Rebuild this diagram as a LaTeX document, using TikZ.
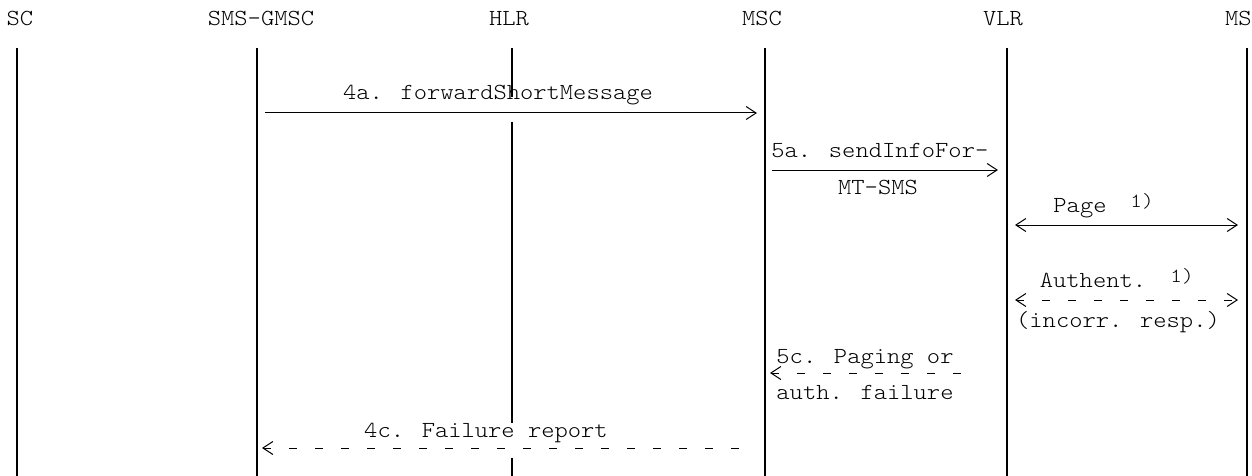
\documentclass[tikz,border=0pt]{standalone}
\usepackage{fontspec}
\newfontfamily\asciifont[FakeStretch=1.1]{lmmonolt10-regular.otf}
\usetikzlibrary{arrows.meta}
\tikzset{
  life/.style={line width=0.7pt},
  msg/.style={line width=0.5pt,-{Straight Barb[length=5pt,width=6.5pt]}},
  backmsg/.style={line width=0.5pt,{Straight Barb[length=5pt,width=6.5pt]}-},
  twoway/.style={line width=0.5pt,{Straight Barb[length=5pt,width=6.5pt]}-{Straight Barb[length=5pt,width=6.5pt]}},
  failmsg/.style={dash pattern=on 4pt off 9pt}
}
\begin{document}
\begin{tikzpicture}[x=0.5pt,y=-0.5pt,every node/.style={font=\asciifont\fontsize{11.5}{13}\selectfont,inner sep=0pt}]
				\useasboundingbox (0,0) rectangle (1252,476);
				% entities and their lines
				\foreach \x/\n/\t in {20/sc/SC,261/gmsc/SMS-GMSC,509/hlr/HLR,762/msc/MSC,1003/vlr/VLR}
				\node[anchor=base] (\n) at (\x,26) {\t};
				\node[anchor=base east] (ms) at (1252,26) {MS};
				\foreach \x in {17,257,765,1007,1247}
				\draw[life] (\x,48) -- (\x,476);
				\draw[life] (512,48) -- (512,97) (512,122) -- (512,423) (512,458) -- (512,476);
				% end points of the messages
				\coordinate (gmsc4a) at (265,113);
				\coordinate (msc4a) at (757,113);
				\coordinate (msc5a) at (772,170);
				\coordinate (vlr5a) at (998,170);
				\coordinate (vlrpage) at (1015,225);
				\coordinate (mspage) at (1238,225);
				\coordinate (vlrauth) at (1015,300);
				\coordinate (msauth) at (1238,300);
				\coordinate (vlr5c) at (968,373);
				\coordinate (msc5c) at (770,373);
				\coordinate (msc4c) at (740,448);
				\coordinate (gmsc4c) at (262,448);
				% messages
				\draw[msg] (gmsc4a) -- (msc4a);
				\node[anchor=base] (t4a) at (498,100) {4a. forwardShortMessage};
				\draw[msg] (msc5a) -- (vlr5a);
				\node[anchor=base west] (t5a) at (771,157) {5a. sendInfoFor-};
				\node[anchor=base] (t5b) at (878,194) {MT-SMS};
				\draw[twoway] (vlrpage) -- (mspage);
				\node[anchor=base] (tpage) at (1080,212) {Page};
				\node[anchor=base,font=\asciifont\fontsize{10}{11}\selectfont] (npage) at (1142,207) {1)};
				\draw[twoway,failmsg] (vlrauth) -- (msauth);
				\node[anchor=base] (tauth) at (1093,287) {Authent.};
				\node[anchor=base,font=\asciifont\fontsize{10}{11}\selectfont] (nauth) at (1182,282) {1)};
				\node[anchor=base] (tincorr) at (1118,327) {(incorr. resp.)};
				\draw[backmsg,failmsg] (msc5c) -- (vlr5c);
				\node[anchor=base] (t5c) at (865,363) {5c. Paging or};
				\node[anchor=base] (t5d) at (865,399) {auth. failure};
				\draw[backmsg,failmsg] (gmsc4c) -- (msc4c);
				\node[anchor=base] (t4c) at (486,437) {4c. Failure report};
			\end{tikzpicture}
\end{document}
